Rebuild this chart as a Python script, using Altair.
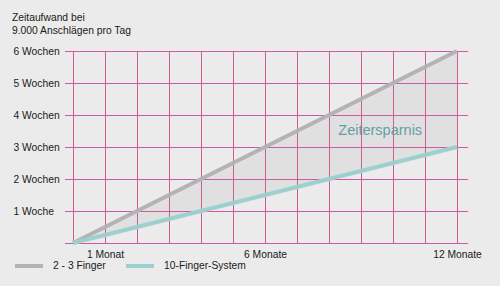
import altair as alt
import pandas as pd

# ---- data ----
months = [0, 12]
finger_2_3 = [0, 6]          # weeks of work, 2-3 finger typing
ten_finger = [0, 3]          # weeks of work, 10-finger system
series_names = ["2 - 3 Finger", "10-Finger-System"]
week_ticks = [0, 1, 2, 3, 4, 5, 6]
month_ticks = list(range(13))
month_label_values = [1, 6, 12]
week_label_values = [1, 2, 3, 4, 5, 6]
title_text = "Zeitaufwand bei\n9.000 Anschlägen pro Tag"
annotation_text = ["Zeitersparnis"]
annotation_month = [9.6]
annotation_week = [3.5]

# ---- styling ----
BG = "#ebebeb"
FILL = "#e0e0e0"
GRID = "#d05a9c"
GRAY = "#b3b3b3"
TEAL = "#9dcfcf"
ANNOT = "#62a0a0"
TXT = "#1a1a1a"
FONT = "Liberation Sans"
W, H = 384, 192

long_df = pd.DataFrame({
    "month": months + months,
    "weeks": finger_2_3 + ten_finger,
    "series": [series_names[0]] * len(months) + [series_names[1]] * len(months),
})
wide_df = pd.DataFrame({"month": months, "upper": finger_2_3, "lower": ten_finger})

x_scale = alt.Scale(domain=[0, 12], nice=False, zero=False)
y_scale = alt.Scale(domain=[0, 6], nice=False)

x_axis = alt.Axis(
    values=month_label_values,
    labelExpr="datum.value == 1 ? '1 Monat' : datum.value + ' Monate'",
    title=None, domain=False, ticks=False, grid=False,
    labelPadding=6, labelFlush=False, labelOverlap=False,
    labelFontSize=10.3, labelColor=TXT, labelFont=FONT,
)
y_axis = alt.Axis(
    values=week_label_values,
    labelExpr="datum.value == 1 ? '1 Woche' : datum.value + ' Wochen'",
    title=None, domain=False, ticks=False, grid=False,
    labelAlign="left", labelPadding=60, labelBaseline="middle",
    labelFontSize=10.3, labelColor=TXT, labelFont=FONT,
)

area = alt.Chart(wide_df).mark_area(color=FILL, opacity=1).encode(
    x=alt.X("month:Q", scale=x_scale, axis=x_axis),
    y=alt.Y("upper:Q", scale=y_scale, axis=y_axis),
    y2="lower:Q",
)

hgrid = alt.Chart(pd.DataFrame({"month": [0] * len(week_ticks), "weeks": week_ticks})).mark_rule(
    color=GRID, strokeWidth=1, yOffset=0.5
).encode(
    y=alt.Y("weeks:Q", scale=y_scale, axis=y_axis),
    x=alt.value(-8),
    x2=alt.value(W + 11),
)

vgrid = alt.Chart(pd.DataFrame({"month": month_ticks})).mark_rule(
    color=GRID, strokeWidth=1, xOffset=0.5
).encode(
    x=alt.X("month:Q", scale=x_scale, axis=x_axis),
    y=alt.value(0),
    y2=alt.value(H),
)

lines = alt.Chart(long_df).mark_line(strokeWidth=4, strokeCap="butt").encode(
    x=alt.X("month:Q", scale=x_scale, axis=x_axis),
    y=alt.Y("weeks:Q", scale=y_scale, axis=y_axis),
    color=alt.Color(
        "series:N",
        scale=alt.Scale(domain=series_names, range=[GRAY, TEAL]),
        legend=alt.Legend(
            orient="none", legendX=-60, legendY=199, direction="horizontal",
            title=None, symbolType="stroke", symbolSize=784,
            symbolStrokeWidth=4, labelFontSize=10.3, labelFont=FONT,
            labelColor=TXT, labelOffset=8, columnPadding=12, padding=0,
        ),
    ),
    detail="series:N",
)

annot = alt.Chart(pd.DataFrame({
    "month": annotation_month, "weeks": annotation_week, "t": annotation_text
})).mark_text(
    fontSize=14.5, color=ANNOT, font=FONT, align="center", baseline="middle"
).encode(
    x=alt.X("month:Q", scale=x_scale, axis=x_axis),
    y=alt.Y("weeks:Q", scale=y_scale, axis=y_axis),
    text="t:N",
)

title = alt.Chart(pd.DataFrame({"t": [title_text]})).mark_text(
    align="left", baseline="alphabetic", lineBreak="\n", fontSize=10.3,
    lineHeight=13, font=FONT, color=TXT,
).encode(
    x=alt.value(-61), y=alt.value(-30), text="t:N",
)

chart = alt.layer(area, vgrid, hgrid, lines, annot, title).properties(
    width=W, height=H,
    padding={"left": 73, "top": 51, "right": 43, "bottom": 43},
    autosize=alt.AutoSizeParams(type="none"),
    background=BG,
).configure_view(stroke=None)

chart.save("out.html", embed_options={"renderer": "svg", "actions": False})
